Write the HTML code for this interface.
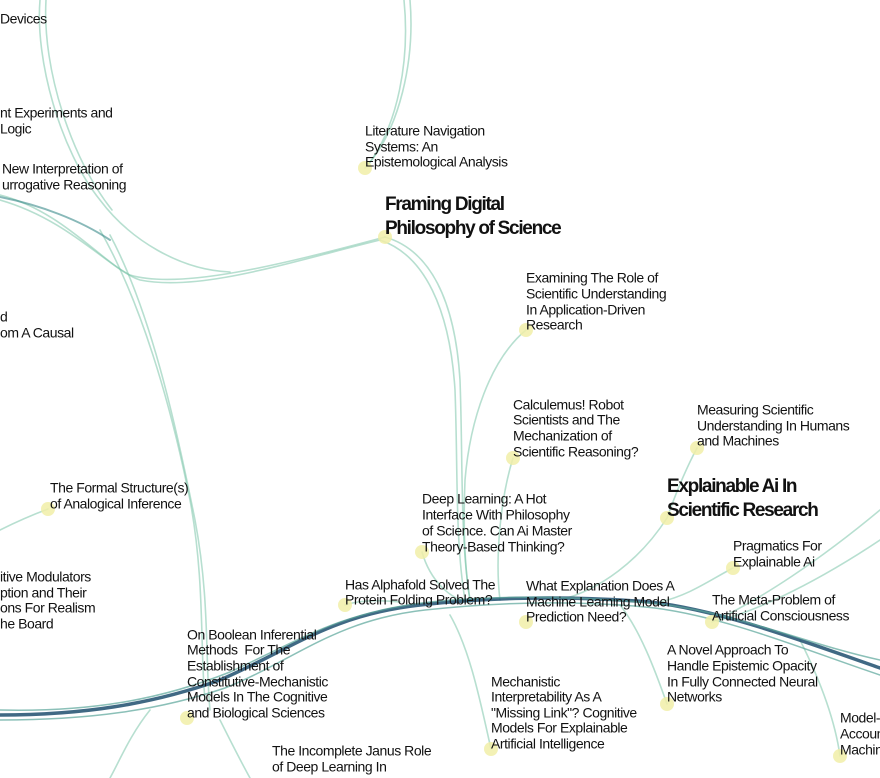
<!DOCTYPE html>
<html><head><meta charset="utf-8"><style>
html,body{margin:0;padding:0;background:#fff;}
svg{display:block;}
text{font-family:"Liberation Sans Narrow","Liberation Sans",sans-serif;font-size:14px;fill:#111;dominant-baseline:middle;letter-spacing:-0.45px;}
.b{font-size:19px;font-weight:bold;letter-spacing:-1.3px;}
</style></head><body>
<svg width="880" height="778" viewBox="0 0 880 778" xmlns="http://www.w3.org/2000/svg">
<g fill="none" stroke-linecap="round">
<g stroke="#7cc5aa" stroke-opacity="0.55" stroke-width="1.6">
<path d="M40,0 C35,60 60,150 100,200 C130,240 180,270 230,272"/>
<path d="M46,0 C42,70 72,160 112,210"/>
<path d="M410,0 C415,60 400,130 365,168"/>
<path d="M404,0 C410,60 398,125 368,165"/>
<path d="M0,195 C60,210 100,260 130,275 C180,290 280,265 385,237"/>
<path d="M0,200 C70,220 110,270 140,280 C200,292 290,262 380,240"/>
<path d="M100,230 C140,300 170,400 190,500 C205,580 200,650 205,700"/>
<path d="M110,235 C150,310 175,420 195,520 C210,600 205,660 210,710"/>
<path d="M385,237 C430,250 455,300 460,380 C463,460 460,540 470,600"/>
<path d="M380,240 C425,255 450,310 455,390 C458,470 455,540 465,600"/>
<path d="M526,330 C490,360 470,420 465,480 C463,530 465,570 470,600"/>
<path d="M513,458 C500,500 495,560 500,600"/>
<path d="M422,552 C430,580 450,600 470,602"/>
<path d="M697,448 C680,480 670,510 667,518 C640,560 600,590 560,600"/>
<path d="M733,568 C710,580 690,595 660,602"/>
<path d="M0,530 C20,520 40,512 48,509"/>
<path d="M491,749 C480,700 470,650 450,615"/>
<path d="M667,704 C655,670 640,630 620,605"/>
<path d="M840,756 C835,720 820,680 800,640"/>
<path d="M880,510 C820,560 760,600 712,622"/>
<path d="M880,540 C820,580 760,610 720,620"/>
<path d="M345,605 C360,600 380,600 400,602"/>
<path d="M110,778 C120,760 130,735 150,710"/>
<path d="M250,778 C240,760 230,740 220,720"/>
</g>
<g stroke="#3a8a8a" stroke-opacity="0.6" stroke-width="2">
<path d="M0,197 C40,205 80,220 110,240"/>
</g>
<g>
<path stroke-width="3.5" stroke="#1f4f6e" stroke-opacity="0.85" d="M0,715 C80,715 150,705 220,680 C290,650 330,615 420,605 C480,598 560,595 650,602 C720,610 800,640 880,668"/>
<path stroke-width="1.5" stroke="#5aa59a" stroke-opacity="0.7" d="M0,710 C90,712 160,700 230,672 C300,640 340,612 430,602 C500,595 580,596 660,604 C740,614 810,645 880,660"/>
<path stroke-width="1.5" stroke="#5aa59a" stroke-opacity="0.7" d="M0,720 C90,720 160,710 225,688 C295,660 335,620 425,610 C500,602 580,600 655,608 C730,618 805,650 880,675"/>
</g>
</g>
<g fill="#f1efa8" fill-opacity="0.85">
<circle cx="48" cy="509" r="7"/><circle cx="365" cy="168" r="7"/><circle cx="385" cy="237" r="7"/>
<circle cx="526" cy="330" r="7"/><circle cx="513" cy="458" r="7"/><circle cx="697" cy="448" r="7"/>
<circle cx="667" cy="518" r="7"/><circle cx="422" cy="552" r="7"/><circle cx="733" cy="568" r="7"/>
<circle cx="345" cy="605" r="7"/><circle cx="526" cy="622" r="7"/><circle cx="712" cy="622" r="7"/>
<circle cx="187" cy="718" r="7"/><circle cx="667" cy="704" r="7"/><circle cx="491" cy="749" r="7"/>
<circle cx="840" cy="756" r="7"/>
</g>
<text x="0" y="20">Devices</text>
<text x="0" y="114">nt Experiments and</text><text x="0" y="130">Logic</text>
<text x="2" y="170">New Interpretation of</text><text x="2" y="186">urrogative Reasoning</text>
<text x="0" y="318">d</text><text x="0" y="334">om A Causal</text>
<text x="50" y="489">The Formal Structure(s)</text><text x="50" y="505">of Analogical Inference</text>
<text x="0" y="578">itive Modulators</text><text x="0" y="594">ption and Their</text><text x="0" y="609">ons For Realism</text><text x="0" y="625">he Board</text>
<text x="365" y="132">Literature Navigation</text><text x="365" y="148">Systems: An</text><text x="365" y="163">Epistemological Analysis</text>
<text class="b" x="385" y="205">Framing Digital</text><text class="b" x="385" y="229">Philosophy of Science</text>
<text x="526" y="279">Examining The Role of</text><text x="526" y="295">Scientific Understanding</text><text x="526" y="311">In Application-Driven</text><text x="526" y="326">Research</text>
<text x="513" y="406">Calculemus! Robot</text><text x="513" y="421">Scientists and The</text><text x="513" y="437">Mechanization of</text><text x="513" y="453">Scientific Reasoning?</text>
<text x="697" y="411">Measuring Scientific</text><text x="697" y="427">Understanding In Humans</text><text x="697" y="442">and Machines</text>
<text class="b" x="667" y="487">Explainable Ai In</text><text class="b" x="667" y="511">Scientific Research</text>
<text x="422" y="500">Deep Learning: A Hot</text><text x="422" y="516">Interface With Philosophy</text><text x="422" y="532">of Science. Can Ai Master</text><text x="422" y="548">Theory-Based Thinking?</text>
<text x="733" y="547">Pragmatics For</text><text x="733" y="563">Explainable Ai</text>
<text x="345" y="586">Has Alphafold Solved The</text><text x="345" y="601">Protein Folding Problem?</text>
<text x="526" y="587">What Explanation Does A</text><text x="526" y="603">Machine Learning Model</text><text x="526" y="618">Prediction Need?</text>
<text x="712" y="601">The Meta-Problem of</text><text x="712" y="617">Artificial Consciousness</text>
<text x="187" y="636">On Boolean Inferential</text><text x="187" y="651" xml:space="preserve">Methods  For The</text><text x="187" y="667">Establishment of</text><text x="187" y="683">Constitutive-Mechanistic</text><text x="187" y="698">Models In The Cognitive</text><text x="187" y="714">and Biological Sciences</text>
<text x="667" y="651">A Novel Approach To</text><text x="667" y="667">Handle Epistemic Opacity</text><text x="667" y="683">In Fully Connected Neural</text><text x="667" y="698">Networks</text>
<text x="491" y="683">Mechanistic</text><text x="491" y="698">Interpretability As A</text><text x="491" y="714">"Missing Link"? Cognitive</text><text x="491" y="729">Models For Explainable</text><text x="491" y="745">Artificial Intelligence</text>
<text x="840" y="719">Model-</text><text x="840" y="735">Accoun</text><text x="840" y="751">Machin</text>
<text x="272" y="752">The Incomplete Janus Role</text><text x="272" y="768">of Deep Learning In</text>
</svg>
</body></html>
